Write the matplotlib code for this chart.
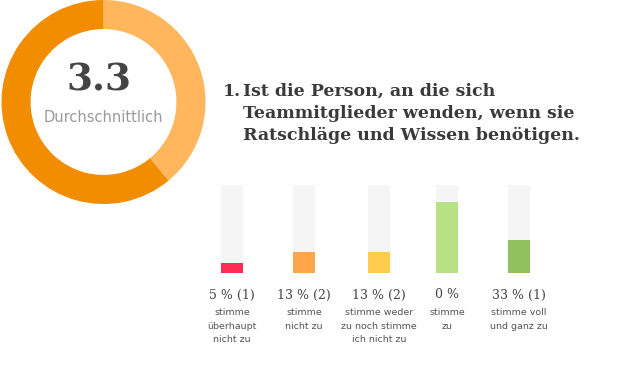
import matplotlib.pyplot as plt

# donut: share of the ring
ring_parts = [0.39, 0.61]
ring_colors = ['#ffb65c', '#f28c00']
score = '3.3'
score_label = 'Durchschnittlich'

title = ['Ist die Person, an die sich',
         'Teammitglieder wenden, wenn sie',
         'Ratschläge und Wissen benötigen.']

# bars
bar_heights = [0.11, 0.24, 0.24, 0.81, 0.37]
bar_colors = ['#ff2d55', '#ffa64d', '#ffcc4d', '#b8e186', '#91c05e']
pct_labels = ['5 % (1)', '13 % (2)', '13 % (2)', '0 %', '33 % (1)']
cat_labels = ['stimme\nüberhaupt\nnicht zu', 'stimme\nnicht zu',
              'stimme weder\nzu noch stimme\nich nicht zu', 'stimme\nzu',
              'stimme voll\nund ganz zu']
bar_x = [232, 304, 379, 447, 518.5]

W, H = 620, 381
fig = plt.figure(figsize=(W / 100, H / 100), dpi=100)

def px(x, y):
    return x / W, 1 - y / H

# donut
cx, cy, r = 103.5, 102, 102
ax_d = fig.add_axes([(cx - r) / W, (H - cy - r) / H, 2 * r / W, 2 * r / H])
ax_d.pie(ring_parts, colors=ring_colors, startangle=90, counterclock=False,
         radius=1, wedgeprops=dict(width=0.285, linewidth=0))
ax_d.set_xlim(-1, 1)
ax_d.set_ylim(-1, 1)
ax_d.axis('off')
fig.text(*px(99, 80), score, ha='center', va='center', fontsize=27,
         fontweight='heavy', family='DejaVu Serif', color='#444444')
fig.text(*px(103, 117), score_label, ha='center', va='center', fontsize=10.5,
         color='#9a9a9a')

# title
fig.text(*px(223, 91), '1.', ha='left', va='center', fontsize=12.5,
         fontweight='bold', family='DejaVu Serif', color='#3a3a3a')
for i, line in enumerate(title):
    fig.text(*px(243, 91 + 22 * i), line, ha='left', va='center', fontsize=12.5,
             fontweight='bold', family='DejaVu Serif', color='#3a3a3a')

# bars
top, bottom = 185, 273
ax_b = fig.add_axes([0, (H - bottom) / H, 1, (bottom - top) / H])
ax_b.bar(bar_x, [1] * len(bar_x), width=22, color='#f5f5f5')
ax_b.bar(bar_x, bar_heights, width=22, color=bar_colors)
ax_b.set_xlim(0, W)
ax_b.set_ylim(0, 1)
ax_b.axis('off')

for x, p, c in zip(bar_x, pct_labels, cat_labels):
    fig.text(*px(x, 295), p, ha='center', va='center', fontsize=9,
             family='DejaVu Serif', color='#444444')
    fig.text(*px(x, 308), c, ha='center', va='top', fontsize=6.8,
             color='#555555', linespacing=1.65)

fig.savefig('out.png', dpi=100)
